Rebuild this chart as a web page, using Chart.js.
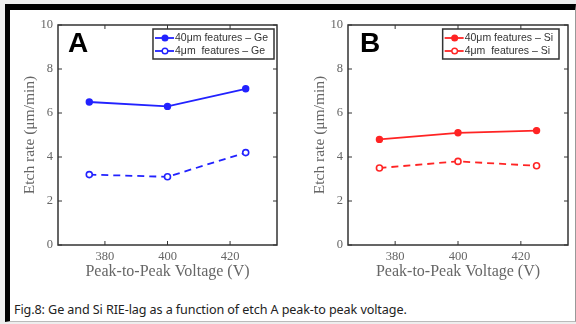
<!DOCTYPE html>
<html>
<head>
<meta charset="utf-8">
<script src="https://cdn.jsdelivr.net/npm/chart.js@4/dist/chart.umd.min.js"></script>
<style>
  html, body { margin: 0; padding: 0; }
  body { width: 576px; height: 324px; background: #eeeeee; position: relative; overflow: hidden; }
  #frame {
    position: absolute; left: 5px; top: 4px; width: 571px; height: 318px;
    box-sizing: border-box; background: #fff;
    border-top: 6px solid #000; border-left: 5px solid #000;
    border-right: 1px solid #999; border-bottom: 1px solid #bbb;
  }
  .panel { position: absolute; top: 0; height: 290px; }
  #caption { position: absolute; left: 14px; top: 301px; font: 12.6px "Noto Sans", sans-serif; color: #222; white-space: nowrap; letter-spacing: -0.1px; }
</style>
</head>
<body>
<div id="frame"></div>
<div class="panel" style="left:0;width:290px"><canvas id="chartA"></canvas></div>
<div class="panel" style="left:290px;width:286px"><canvas id="chartB"></canvas></div>
<div id="caption">Fig.8: Ge and Si RIE-lag as a function of etch A peak-to peak voltage.</div>

<script>
const voltages = [375, 400, 425];
const xTicks = [380, 400, 420];
const yTicks = [0, 2, 4, 6, 8, 10];

const ge40 = [6.5, 6.3, 7.1];
const ge4 = [3.2, 3.1, 4.2];
const si40 = [4.8, 5.1, 5.2];
const si4 = [3.5, 3.8, 3.6];

const labelsA = ["40\u03bcm features \u2013 Ge", "4\u03bcm  features \u2013 Ge"];
const labelsB = ["40\u03bcm features \u2013 Si", "4\u03bcm  features \u2013 Si"];

const serif = "'Liberation Serif', 'DejaVu Serif', serif";

function points(values) {
  return values.map((v, i) => ({ x: voltages[i], y: v }));
}

// box, inward ticks on all sides, panel letter and legend box
const panelDecor = {
  id: "panelDecor",
  afterDraw(chart, args, opts) {
    const { ctx, chartArea: a, scales } = chart;
    const line = (x1, y1, x2, y2) => {
      ctx.beginPath(); ctx.moveTo(x1, y1); ctx.lineTo(x2, y2); ctx.stroke();
    };
    ctx.save();
    ctx.strokeStyle = "#333";
    ctx.lineWidth = 1.5;
    ctx.strokeRect(a.left, a.top, a.right - a.left, a.bottom - a.top);

    ctx.lineWidth = 1;
    const len = 4;
    scales.x.ticks.forEach((t) => {
      const px = scales.x.getPixelForValue(t.value);
      line(px, a.bottom, px, a.bottom - len);
      line(px, a.top, px, a.top + len);
    });
    scales.y.ticks.forEach((t) => {
      const py = scales.y.getPixelForValue(t.value);
      line(a.left, py, a.left + len, py);
      line(a.right, py, a.right - len, py);
    });

    ctx.fillStyle = "#000";
    ctx.font = "bold 28px 'Liberation Sans', Arial, sans-serif";
    ctx.textBaseline = "alphabetic";
    ctx.fillText(opts.letter, a.left + opts.letterX, a.top + 27);

    // legend
    ctx.font = "10.5px 'Liberation Sans', Arial, sans-serif";
    const sets = chart.data.datasets;
    const textW = Math.max(...sets.map((d) => ctx.measureText(d.label).width));
    const boxW = textW + 28;
    const boxH = 30;
    const bx = a.right - opts.legendRight - boxW;
    const by = a.top + 4;
    ctx.fillStyle = "#fff";
    ctx.fillRect(bx, by, boxW, boxH);
    ctx.strokeStyle = "#333";
    ctx.lineWidth = 1.5;
    ctx.strokeRect(bx, by, boxW, boxH);
    sets.forEach((d, i) => {
      const ry = by + 9 + i * 13;
      ctx.strokeStyle = d.borderColor;
      ctx.lineWidth = 1.8;
      ctx.setLineDash([]);
      line(bx + 2, ry, bx + 21, ry);
      ctx.beginPath();
      ctx.arc(bx + 12, ry, 2.8, 0, Math.PI * 2);
      ctx.fillStyle = d.pointBackgroundColor;
      ctx.fill();
      ctx.lineWidth = 1.4;
      ctx.stroke();
      ctx.fillStyle = "#333";
      ctx.textBaseline = "middle";
      ctx.fillText(d.label, bx + 22, ry + 0.5);
    });
    ctx.restore();
  }
};

function makeChart(id, color, solid, dashed, labels, letter, padRight, legendRight, letterX) {
  return new Chart(document.getElementById(id), {
    type: "line",
    data: {
      datasets: [
        {
          label: labels[0],
          data: points(solid),
          borderColor: color,
          backgroundColor: color,
          pointBackgroundColor: color,
          borderWidth: 1.8,
          pointRadius: 3,
          pointBorderWidth: 1.4
        },
        {
          label: labels[1],
          data: points(dashed),
          borderColor: color,
          backgroundColor: "#fff",
          pointBackgroundColor: "#fff",
          borderWidth: 1.8,
          borderDash: [7, 5],
          pointRadius: 3,
          pointBorderWidth: 1.6
        }
      ]
    },
    options: {
      responsive: true,
      maintainAspectRatio: false,
      animation: false,
      layout: { padding: { top: 25, right: padRight, left: 0, bottom: 0 } },
      plugins: {
        legend: { display: false },
        tooltip: { enabled: false },
        panelDecor: { letter: letter, legendRight: legendRight, letterX: letterX }
      },
      scales: {
        x: {
          type: "linear",
          min: 365,
          max: 435,
          grid: { display: false, drawTicks: false },
          border: { display: false },
          afterBuildTicks: (s) => { s.ticks = xTicks.map((v) => ({ value: v })); },
          afterFit: (s) => { s.height = 45; },
          ticks: { color: "#666", padding: 4, font: { family: serif, size: 12.5 } },
          title: {
            display: true,
            text: "Peak-to-Peak Voltage (V)",
            color: "#666",
            font: { family: serif, size: 16 },
            padding: { top: 0, bottom: 9 }
          }
        },
        y: {
          min: 0,
          max: 10,
          grid: { display: false, drawTicks: false },
          border: { display: false },
          afterBuildTicks: (s) => { s.ticks = yTicks.map((v) => ({ value: v })); },
          afterFit: (s) => { s.width = 58; },
          ticks: { color: "#666", padding: 5, font: { family: serif, size: 12.5 } },
          title: {
            display: true,
            text: "Etch rate (\u03bcm/min)",
            color: "#666",
            font: { family: serif, size: 15.5 },
            padding: { top: 21, bottom: 0 }
          }
        }
      }
    },
    plugins: [panelDecor]
  });
}

makeChart("chartA", "#2222ff", ge40, ge4, labelsA, "A", 13, 3, 10);
makeChart("chartB", "#ff2424", si40, si4, labelsB, "B", 8, 9, 12);
</script>
</body>
</html>
